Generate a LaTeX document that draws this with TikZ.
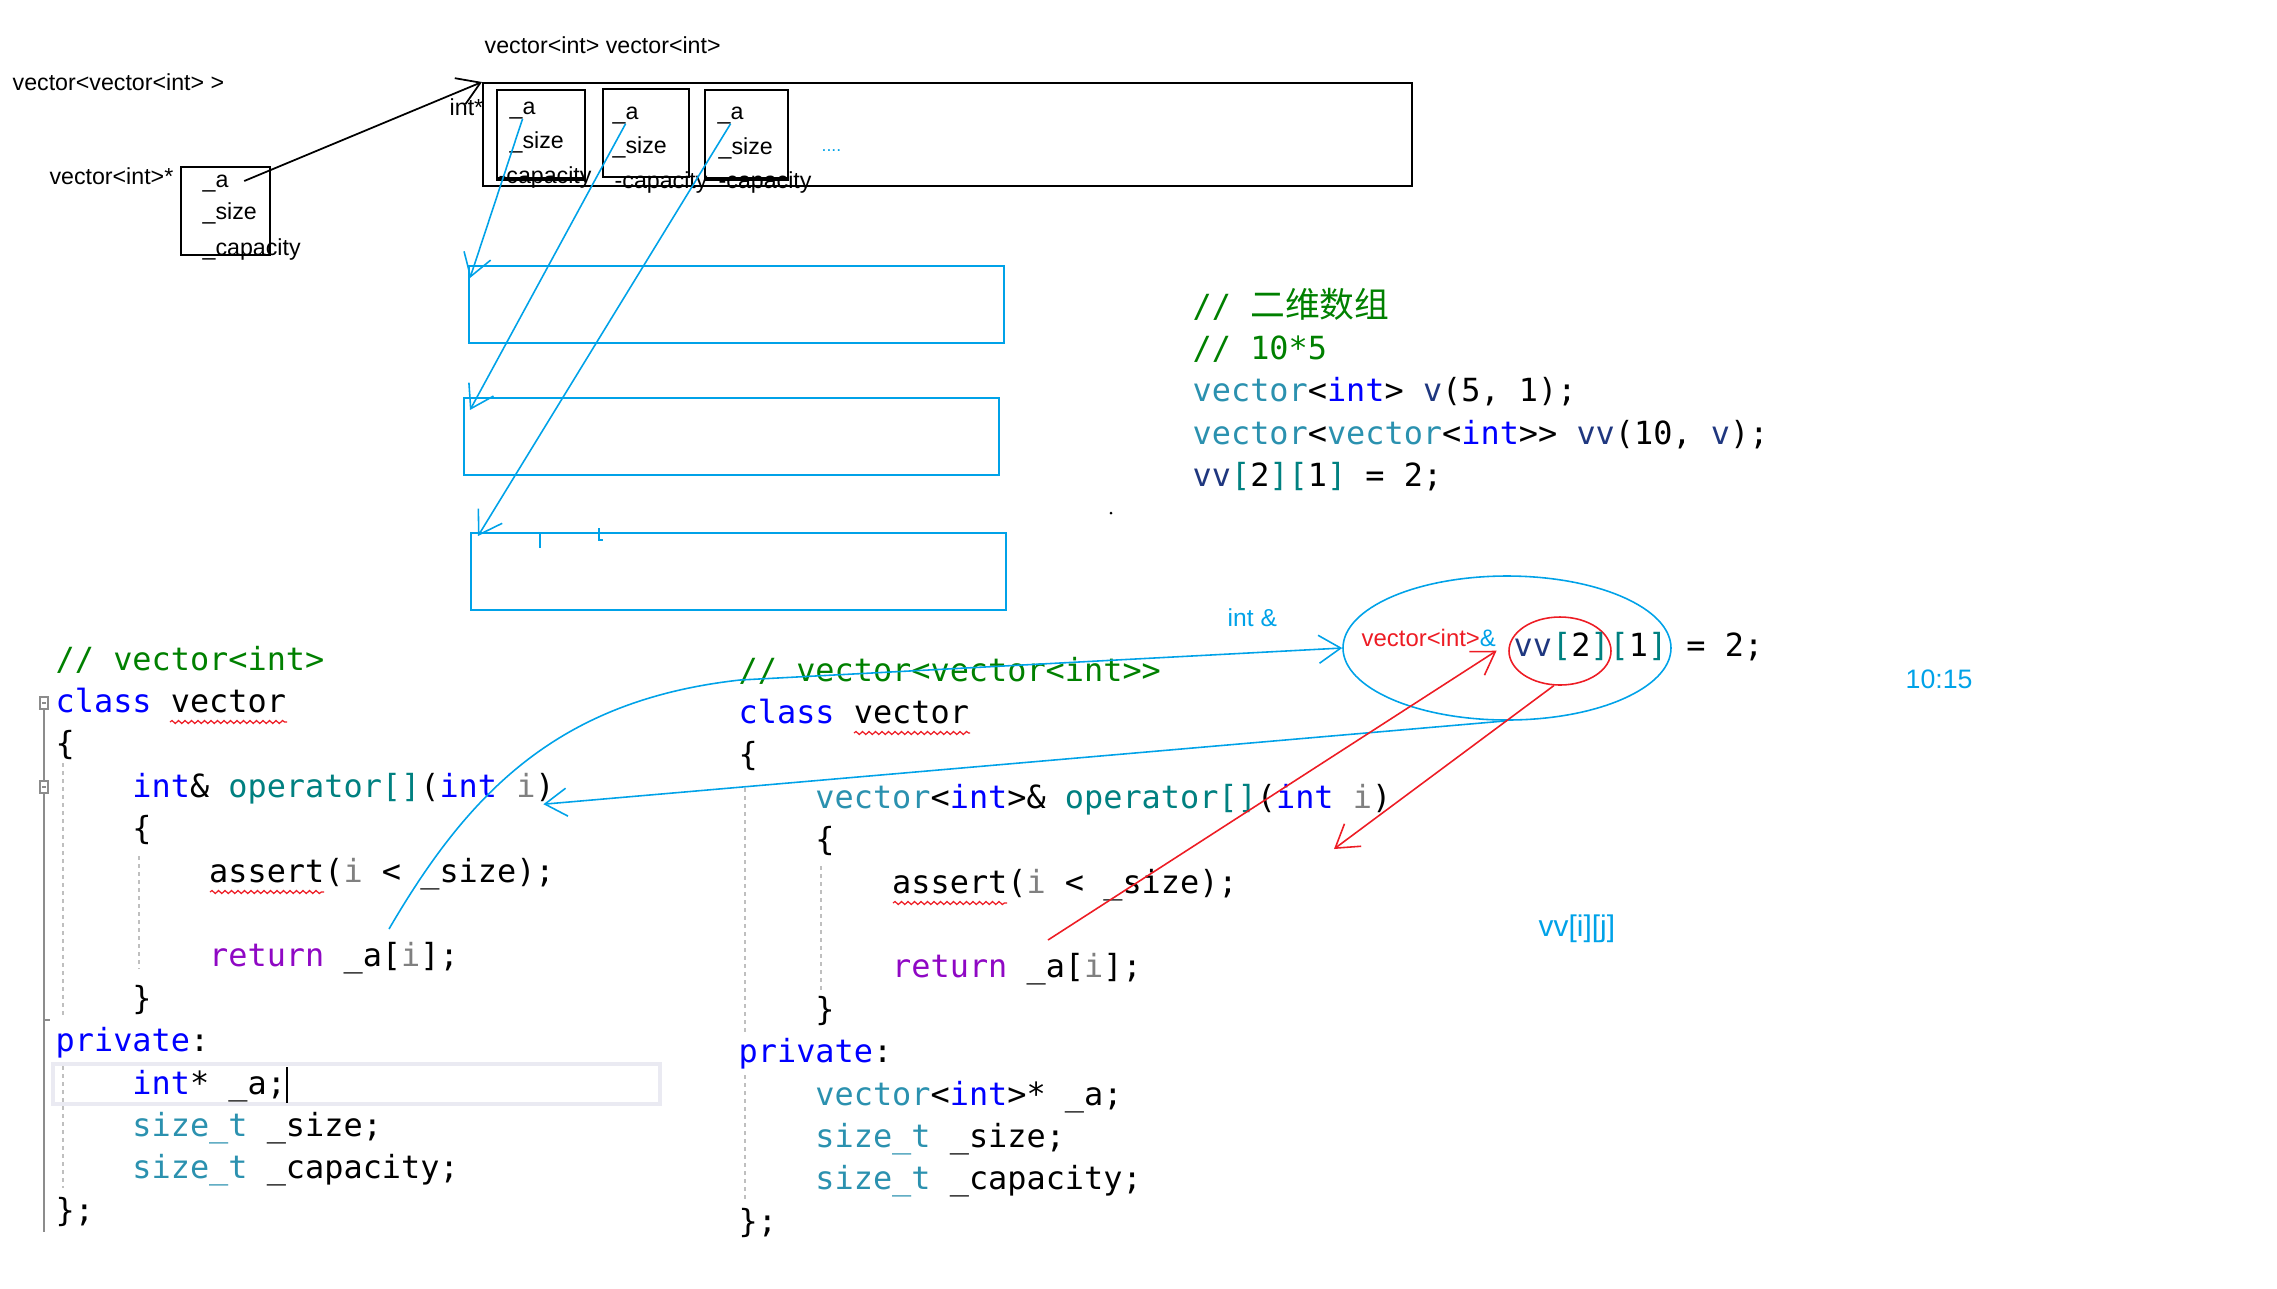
\documentclass[tikz,border=0pt]{standalone}
\usepackage{fontspec}
\usetikzlibrary{positioning, shapes.geometric, arrows.meta, decorations.pathmorphing}
\newfontfamily\codefont{DejaVu Sans Mono}
\newfontfamily\notefont{Liberation Sans}
\newfontfamily\cjkfont{Noto Sans CJK SC}
\definecolor{cmtgreen}{RGB}{0,128,0}
\definecolor{kwblue}{RGB}{0,0,255}
\definecolor{typeteal}{RGB}{43,145,175}
\definecolor{opteal}{RGB}{0,128,128}
\definecolor{retpurple}{RGB}{143,8,196}
\definecolor{parmgray}{RGB}{128,128,128}
\definecolor{varnavy}{RGB}{31,55,127}
\definecolor{penblue}{RGB}{0,162,232}
\definecolor{penred}{RGB}{237,28,36}
\definecolor{linehl}{RGB}{234,234,242}
\newcommand{\ccmt}[1]{\textcolor{cmtgreen}{#1}}
\newcommand{\ckw}[1]{\textcolor{kwblue}{#1}}
\newcommand{\cty}[1]{\textcolor{typeteal}{#1}}
\newcommand{\cop}[1]{\textcolor{opteal}{#1}}
\newcommand{\cret}[1]{\textcolor{retpurple}{#1}}
\newcommand{\cprm}[1]{\textcolor{parmgray}{#1}}
\newcommand{\cvar}[1]{\textcolor{varnavy}{#1}}
\newcommand{\ind}{\phantom{0000}}
\tikzset{
    code/.style = {
        anchor=west, inner sep=0pt,
        text height=2.4mm, text depth=0.8mm,
        font=\codefont\fontsize{9.07}{11}\selectfont
    },
    note/.style = {
        anchor=west, inner sep=0pt,
        text height=1.6mm, text depth=0.4mm,
        font=\notefont\fontsize{6.6}{8}\selectfont
    },
    cell/.style = {
        draw, line width=0.55pt,
        anchor=north west, inner sep=0pt
    },
    rowbox/.style = {
        draw=penblue, line width=0.7pt,
        anchor=north west, inner sep=0pt,
        minimum width=53.5mm, minimum height=7.7mm
    },
    bluepen/.style = {penblue, line width=0.45pt},
    redpen/.style = {penred, line width=0.45pt},
    barb/.style = {-{Straight Barb[length=2.2mm, width=2.8mm]}},
    squiggle/.style = {
        penred, line width=0.35pt, decorate,
        decoration={snake, amplitude=0.15mm, segment length=0.65mm}
    },
    guide/.style = {black!25, line width=0.35pt, dash pattern=on 0.4mm off 0.4mm}
}

\begin{document}
\begin{tikzpicture}[x=0.1mm, y=-0.1mm, node distance=4.24mm]
\useasboundingbox (0,0) rectangle (2277,1288);

% memory sketch
\node (nestlbl) [note] at (12,84) {vector<vector<int> >};
\node (plbl) [note, anchor=east] at (174,178) {vector<int>*};
\node (pbox) [cell, minimum width=8.9mm, minimum height=8.8mm] at (180,166) {};
\node (pa) [note] at (202,181) {\_a};
\node (psize) [note] at (202,213) {\_size};
\node (pcap) [note] at (202,249) {\_capacity};

\node (celllbl) [note] at (484,47) {vector<int> vector<int>};
\node (outer) [cell, minimum width=92.9mm, minimum height=10.3mm] at (482,82) {};
\node (ptrlbl) [note] at (449,109) {int*};
\draw [line width=0.5pt, barb] ([xshift=1.5mm]pa.east) -- (outer.north west);

\node (c1) [cell, minimum width=8.8mm, minimum height=8.8mm] at (496,89) {};
\node (c2) [cell, minimum width=8.6mm, minimum height=8.8mm] at (602,88) {};
\node (c3) [cell, minimum width=8.3mm, minimum height=8.8mm] at (704,89) {};
\draw [line width=1.2pt] (c1.south west) -- (c1.south east);
\draw [line width=1.2pt] (c3.south west) -- (c3.south east);
\node (a1) [note] at (509,108) {\_a};
\node (s1) [note] at (509,142) {\_size};
\node (k1) [note] at (498,177) {-capacity};
\node (a2) [note] at (612,113) {\_a};
\node (s2) [note] at (612,147) {\_size};
\node (k2) [note] at (614,182) {-capacity};
\node (a3) [note] at (717,113) {\_a};
\node (s3) [note] at (718,148) {\_size};
\node (k3) [note] at (718,182) {-capacity};
\node (dots) [note, font=\notefont\fontsize{5}{6}\selectfont, text=penblue] at (821,145) {....};

\node (row1) [rowbox] at (468,265) {};
\node (row2) [rowbox] at (463,397) {};
\node (row3) [rowbox] at (470,532) {};
\draw [bluepen, barb] (a1.south) -- ([shift={(2,13)}]row1.north west);
\draw [bluepen, barb] (a2.south) -- ([shift={(7,13)}]row2.north west);
\draw [bluepen, barb] (a3.south) -- ([shift={(8,4)}]row3.north west);
\draw [bluepen, line width=0.8pt] (540,532) -- (540,548);
\draw [bluepen, line width=0.8pt] (599,528) -- (599,540) -- (603,540);

% vector<int>
\draw [black!45, line width=0.4pt] (44,708) -- (44,1232);
\draw [black!45, line width=0.4pt] (44,1020) -- (50,1020);
\draw [black!45, fill=white, line width=0.4pt] (40,697) rectangle (48,709);
\draw [black!45, line width=0.4pt] (42,703) -- (46,703);
\draw [black!45, fill=white, line width=0.4pt] (40,781) rectangle (48,793);
\draw [black!45, line width=0.4pt] (42,787) -- (46,787);
\draw [linehl, line width=1pt] (53,1064) rectangle (660,1104);
\draw [guide] (63,763) -- (63,1016);
\draw [guide] (63,1066) -- (63,1188);
\draw [guide] (139,856) -- (139,969);

\node (lc1) [code] at (55,662) {\ccmt{// vector<int>}};
\node (lc2) [code, below=of lc1.west, anchor=west] {\ckw{class} vector};
\node (lc3) [code, below=of lc2.west, anchor=west] {\{};
\node (lc4) [code, below=of lc3.west, anchor=west] {\ind\ckw{int}\& \cop{operator[]}(\ckw{int} \cprm{i})};
\node (lc5) [code, below=of lc4.west, anchor=west] {\ind\{};
\node (lc6) [code, below=of lc5.west, anchor=west] {\ind\ind assert(\cprm{i} < \_size);};
\node (lc7) [code, below=8.48mm of lc6.west, anchor=west] {\ind\ind\cret{return} \_a[\cprm{i}];};
\node (lc8) [code, below=of lc7.west, anchor=west] {\ind\}};
\node (lc9) [code, below=of lc8.west, anchor=west] {\ckw{private}:};
\node (lc10) [code, below=of lc9.west, anchor=west] {\ind\ckw{int}* \_a;};
\node (lc11) [code, below=of lc10.west, anchor=west] {\ind\cty{size\_t} \_size;};
\node (lc12) [code, below=of lc11.west, anchor=west] {\ind\cty{size\_t} \_capacity;};
\node (lc13) [code, below=of lc12.west, anchor=west] {\};};
\draw [line width=0.6pt] (287,1067) -- (287,1103);
\draw [squiggle] (170,722) -- (287,722);
\draw [squiggle] (210,892) -- (324,892);

% vector<vector<int>>
\draw [guide] (745,788) -- (745,1032);
\draw [guide] (745,1075) -- (745,1201);
\draw [guide] (821,866) -- (821,990);

\node (rc1) [code] at (738,673) {\ccmt{// vector<vector<int>\kern0pt>}};
\node (rc2) [code, below=of rc1.west, anchor=west] {\ckw{class} vector};
\node (rc3) [code, below=of rc2.west, anchor=west] {\{};
\node (rc4) [code, below=of rc3.west, anchor=west] {\ind\cty{vector}<\ckw{int}>\& \cop{operator[]}(\ckw{int} \cprm{i})};
\node (rc5) [code, below=of rc4.west, anchor=west] {\ind\{};
\node (rc6) [code, below=of rc5.west, anchor=west] {\ind\ind assert(\cprm{i} < \_size);};
\node (rc7) [code, below=8.48mm of rc6.west, anchor=west] {\ind\ind\cret{return} \_a[\cprm{i}];};
\node (rc8) [code, below=of rc7.west, anchor=west] {\ind\}};
\node (rc9) [code, below=of rc8.west, anchor=west] {\ckw{private}:};
\node (rc10) [code, below=of rc9.west, anchor=west] {\ind\cty{vector}<\ckw{int}>* \_a;};
\node (rc11) [code, below=of rc10.west, anchor=west] {\ind\cty{size\_t} \_size;};
\node (rc12) [code, below=of rc11.west, anchor=west] {\ind\cty{size\_t} \_capacity;};
\node (rc13) [code, below=of rc12.west, anchor=west] {\};};
\draw [squiggle] (854,733) -- (970,733);
\draw [squiggle] (893,903) -- (1007,903);

% usage
\node (tc1) [code] at (1192,309) {\ccmt{// {\cjkfont\fontsize{9.9}{11}\selectfont 二维数组}}};
\node (tc2) [code, below=of tc1.west, anchor=west] {\ccmt{// 10*5}};
\node (tc3) [code, below=of tc2.west, anchor=west] {\cty{vector}<\ckw{int}> \cvar{v}(5, 1);};
\node (tc4) [code, below=of tc3.west, anchor=west] {\cty{vector}<\cty{vector}<\ckw{int}>\kern0pt> \cvar{vv}(10, \cvar{v});};
\node (tc5) [code, below=of tc4.west, anchor=west] {\cvar{vv}\cop{[}2\cop{]}\cop{[}1\cop{]} = 2;};
\fill (1111,513) circle (1.5);

% annotations
\node (ring) [ellipse, draw=penblue, line width=0.45pt, minimum width=32.8mm, minimum height=14.4mm] at (1507,648) {};
\node (hit) [ellipse, draw=penred, line width=0.45pt, minimum width=10.2mm, minimum height=6.8mm] at (1560,651) {};
\node (vref) [note, font=\notefont\fontsize{6.8}{8}\selectfont, text=penred] at (1361,640) {vector<int>\textcolor{penblue}{\&}};
\node (vvline) [code] at (1513,648) {\cvar{vv}\cop{[}2\cop{]}\cop{[}1\cop{]} = 2;};
\node (intref) [note, font=\notefont\fontsize{7}{8}\selectfont, text=penblue] at (1227,620) {int \&};
\node (clock) [note, font=\notefont\fontsize{7.6}{9}\selectfont, text=penblue] at (1905,682) {10:15};
\node (vvij) [note, font=\notefont\fontsize{8.5}{10}\selectfont, text=penblue] at (1538,930) {vv[i][j]};

\coordinate (cstart) at (389,929);
\coordinate (rtail) at (1048,940);
\coordinate (rtip) at (1334,849);
\draw [bluepen, barb] (cstart) .. controls (470,790) and (560,700) .. (740,680) -- (ring.west);
\draw [bluepen, barb] (ring.south) -- ([shift={(-12,15)}]lc4.east);
\draw [redpen, barb] (rtail) -- (vref.south east);
\draw [redpen, barb] (hit.-100) -- (rtip);

\end{tikzpicture}
\end{document}
